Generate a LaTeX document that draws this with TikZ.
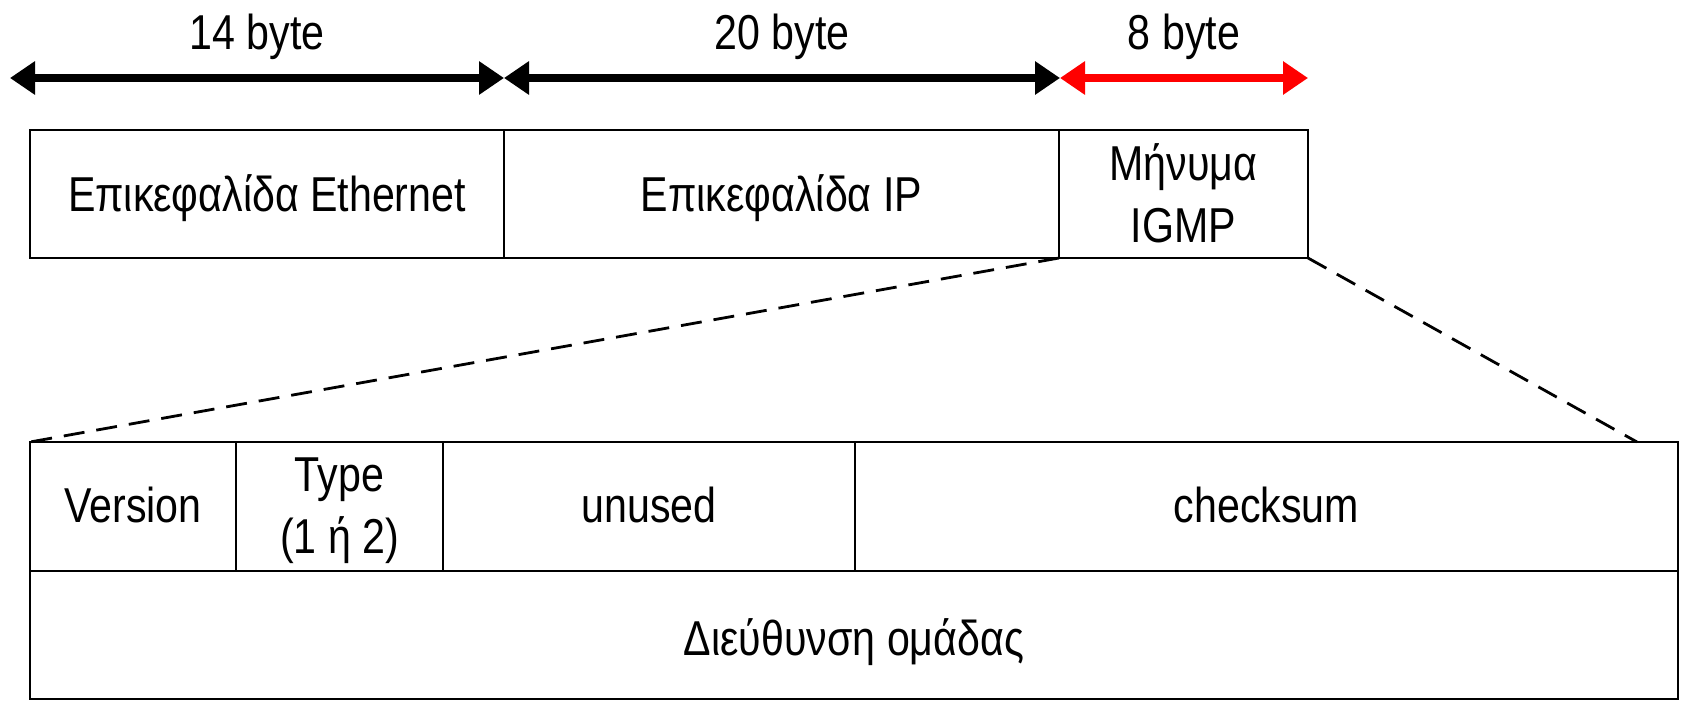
\documentclass[tikz,border=0pt]{standalone}
\usepackage{fontspec}
\setmainfont{Liberation Sans}[FakeStretch=0.84]
\usetikzlibrary{arrows.meta}
\begin{document}
\begin{tikzpicture}[x=1pt,y=-1pt,
  cell/.style={draw, line width=2.8pt, inner sep=0pt, outer sep=0pt, anchor=north west},
  txt/.style={font=\fontsize{49}{62}\selectfont, anchor=base, inner sep=0pt, align=center},
  dimarrow/.style={line width=8pt, {Triangle[length=25pt,width=32pt]}-{Triangle[length=25pt,width=32pt]}},
  zoomline/.style={line width=2.8pt, dash pattern=on 21pt off 12pt}]
\useasboundingbox (0,0) rectangle (1681,701);
% dimension arrows
\coordinate (a0) at (10,78);
\coordinate (a1) at (504,78);
\coordinate (a2) at (1060,78);
\coordinate (a3) at (1308,78);
\draw[dimarrow] (a0) -- (a1);
\draw[dimarrow] (a1) -- (a2);
\draw[dimarrow, red] (a2) -- (a3);
\node[txt] (l14) at (257,50) {14 byte};
\node[txt] (l20) at (782,50) {20 byte};
\node[txt] (l8) at (1184,50) {8 byte};
% top frame
\node[cell, minimum width=474pt, minimum height=128pt] (eth) at (30,130) {};
\node[cell, minimum width=555pt, minimum height=128pt] (ip) at (504,130) {};
\node[cell, minimum width=249pt, minimum height=128pt] (igmp) at (1059,130) {};
\node[txt] (ethT) at (267,211) {Επικεφαλίδα Ethernet};
\node[txt] (ipT) at (781.5,211) {Επικεφαλίδα IP};
\node[txt] (igmpT) at (1183.5,242) {Μήνυμα\\IGMP};
% IGMP message
\node[cell, minimum width=206pt, minimum height=129pt] (version) at (30,442) {};
\node[cell, minimum width=207pt, minimum height=129pt] (type) at (236,442) {};
\node[cell, minimum width=412pt, minimum height=129pt] (unused) at (443,442) {};
\node[cell, minimum width=823pt, minimum height=129pt] (checksum) at (855,442) {};
\node[cell, minimum width=1648pt, minimum height=128pt] (group) at (30,571) {};
\node[txt] (versionT) at (133,522) {Version};
\node[txt] (typeT) at (339.5,553) {Type\\(1 ή 2)};
\node[txt] (unusedT) at (649,522) {unused};
\node[txt] (checksumT) at (1266.5,522) {checksum};
\node[txt] (groupT) at (854,655) {Διεύθυνση ομάδας};
% zoom lines
\coordinate (zr) at (1637,442);
\draw[zoomline] (igmp.south west) -- (version.north west);
\draw[zoomline] (igmp.south east) -- (zr);
\end{tikzpicture}
\end{document}
